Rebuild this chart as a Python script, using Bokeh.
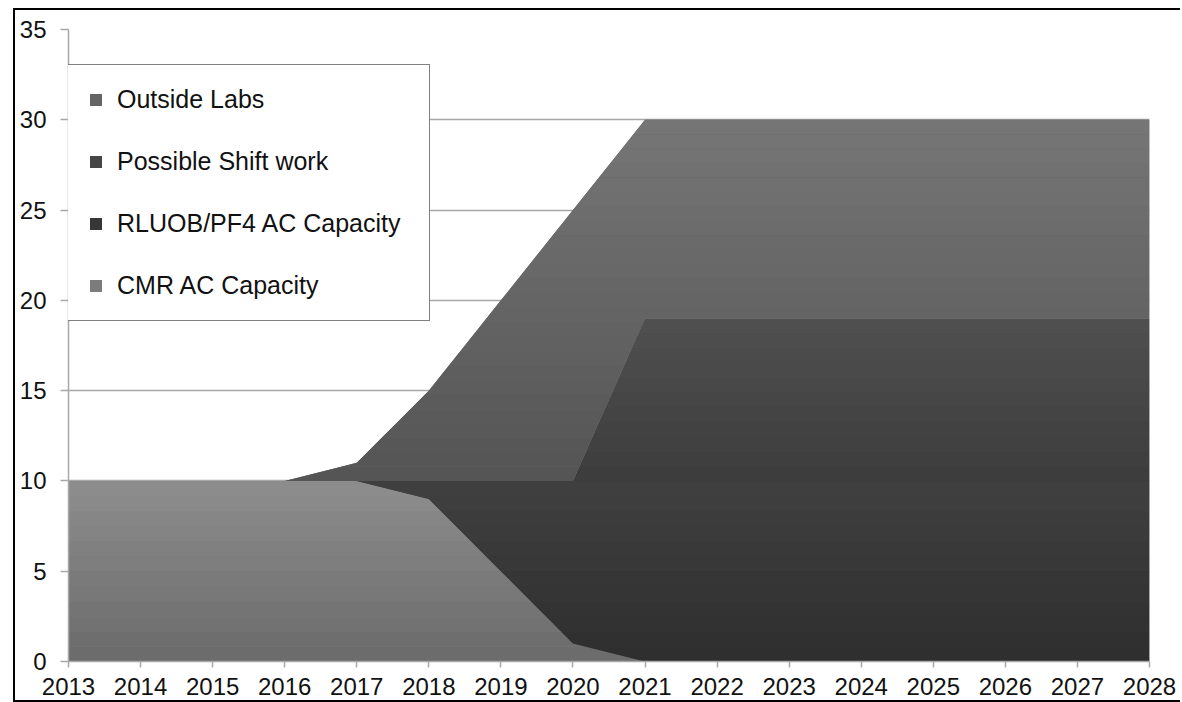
import numpy as np
from bokeh.plotting import figure
from bokeh.models import Range1d, FixedTicker, Legend, LegendItem
from bokeh.embed import file_html
from bokeh.resources import INLINE

# ---------------- data ----------------
years = [2013, 2014, 2015, 2016, 2017, 2018, 2019, 2020,
         2021, 2022, 2023, 2024, 2025, 2026, 2027, 2028]
cmr_ac = [10, 10, 10, 10, 10, 9, 5, 1, 0, 0, 0, 0, 0, 0, 0, 0]
rluob_pf4_ac = [0, 0, 0, 0, 0, 1, 5, 9, 10, 10, 10, 10, 10, 10, 10, 10]
shift_work = [0, 0, 0, 0, 0, 0, 0, 0, 9, 9, 9, 9, 9, 9, 9, 9]
outside_labs = [0, 0, 0, 0, 1, 5, 10, 15, 11, 11, 11, 11, 11, 11, 11, 11]
series_names = ["CMR AC Capacity", "RLUOB/PF4 AC Capacity",
                "Possible Shift work", "Outside Labs"]
legend_order = ["Outside Labs", "Possible Shift work",
                "RLUOB/PF4 AC Capacity", "CMR AC Capacity"]
y_ticks = [0, 5, 10, 15, 20, 25, 30, 35]

# gradient (bottom gray, top gray) for each series
grad = {
    "CMR AC Capacity": (0x6a, 0x8e),
    "RLUOB/PF4 AC Capacity": (0x2e, 0x40),
    "Possible Shift work": (0x3c, 0x50),
    "Outside Labs": (0x54, 0x76),
}

FONT = "Liberation Sans"
TXT = "#111111"
GRID = "#a8a8a8"

p = figure(width=1167, height=694, output_backend="svg", toolbar_location=None,
           tools="", x_range=Range1d(2013, 2028), y_range=Range1d(0, 35),
           min_border_left=53, min_border_right=33, min_border_top=19,
           min_border_bottom=43)
p.styles = {"margin-left": "13px", "margin-top": "8px",
            "border-top": "2px solid #000",
            "border-left": "2px solid #000", "border-bottom": "2px solid #000"}
p.outline_line_color = None
p.background_fill_color = "white"
p.border_fill_color = "white"

yrs = np.array(years, dtype=float)
base = np.zeros(len(years))
stack_vals = [cmr_ac, rluob_pf4_ac, shift_work, outside_labs]


def gray(v):
    v = int(round(v))
    return "#%02x%02x%02x" % (v, v, v)


base_renderers = {}
for name, vals in zip(series_names, stack_vals):
    lower = base.copy()
    upper = base + np.array(vals, dtype=float)
    base = upper
    lo_c, hi_c = grad[name]
    ymin, ymax = lower.min(), upper.max()
    # solid base (also used as legend glyph)
    base_renderers[name] = p.varea(x=yrs, y1=lower, y2=upper,
                                   fill_color=gray((lo_c + hi_c) / 2))
    # horizontal gradient bands, clipped to the stacked area
    step = 0.8
    n = max(1, int(round((ymax - ymin) / step)))
    edges = np.linspace(ymin, ymax, n + 1)
    xs = set(years)
    for i in range(len(years) - 1):
        for c in (lower, upper):
            a0, a1 = c[i], c[i + 1]
            if a0 != a1:
                for e in edges:
                    if min(a0, a1) < e < max(a0, a1):
                        xs.add(years[i] + (e - a0) / (a1 - a0) * (years[i + 1] - years[i]))
    xs = np.array(sorted(xs), dtype=float)
    L = np.interp(xs, yrs, lower)
    U = np.interp(xs, yrs, upper)
    for k in range(n):
        a, b = edges[k], edges[k + 1]
        t = (k + 0.5) / n
        col = gray(lo_c + (hi_c - lo_c) * t)
        y1 = np.clip(L, a, b)
        y2 = np.clip(U, a, b)
        if np.all(y2 - y1 <= 1e-9):
            continue
        p.varea(x=xs, y1=y1, y2=y2, fill_color=col)

items = [LegendItem(label=name, renderers=[base_renderers[name]]) for name in legend_order]

legend = Legend(items=items, location=(-1, 340), orientation="vertical",
                glyph_width=15, glyph_height=15, label_standoff=14,
                spacing=33, padding=20, label_height=24, label_width=292,
                label_text_font=FONT, label_text_font_size="25px",
                label_text_color=TXT, border_line_color="black",
                border_line_width=1.5, background_fill_color="white",
                background_fill_alpha=1.0, margin=0)
p.add_layout(legend, "center")

# axes
p.xaxis.ticker = FixedTicker(ticks=years)
p.yaxis.ticker = FixedTicker(ticks=y_ticks)
for ax in (p.xaxis[0], p.yaxis[0]):
    ax.axis_line_color = GRID
    ax.axis_line_width = 1.5
    ax.major_tick_line_color = GRID
    ax.major_tick_line_width = 1.5
    ax.major_tick_in = 0
    ax.minor_tick_line_color = None
    ax.major_label_text_font = FONT
    ax.major_label_text_color = TXT
p.xaxis.major_label_text_font_size = "24px"
p.yaxis.major_label_text_font_size = "24px"
p.xaxis.major_tick_out = 6
p.xaxis.major_label_standoff = 10
p.yaxis.major_tick_out = 8
p.yaxis.major_label_standoff = 14

p.xgrid.grid_line_color = None
p.ygrid.grid_line_color = GRID
p.ygrid.grid_line_width = 1.5

open("out.html", "w").write(file_html(p, INLINE))
